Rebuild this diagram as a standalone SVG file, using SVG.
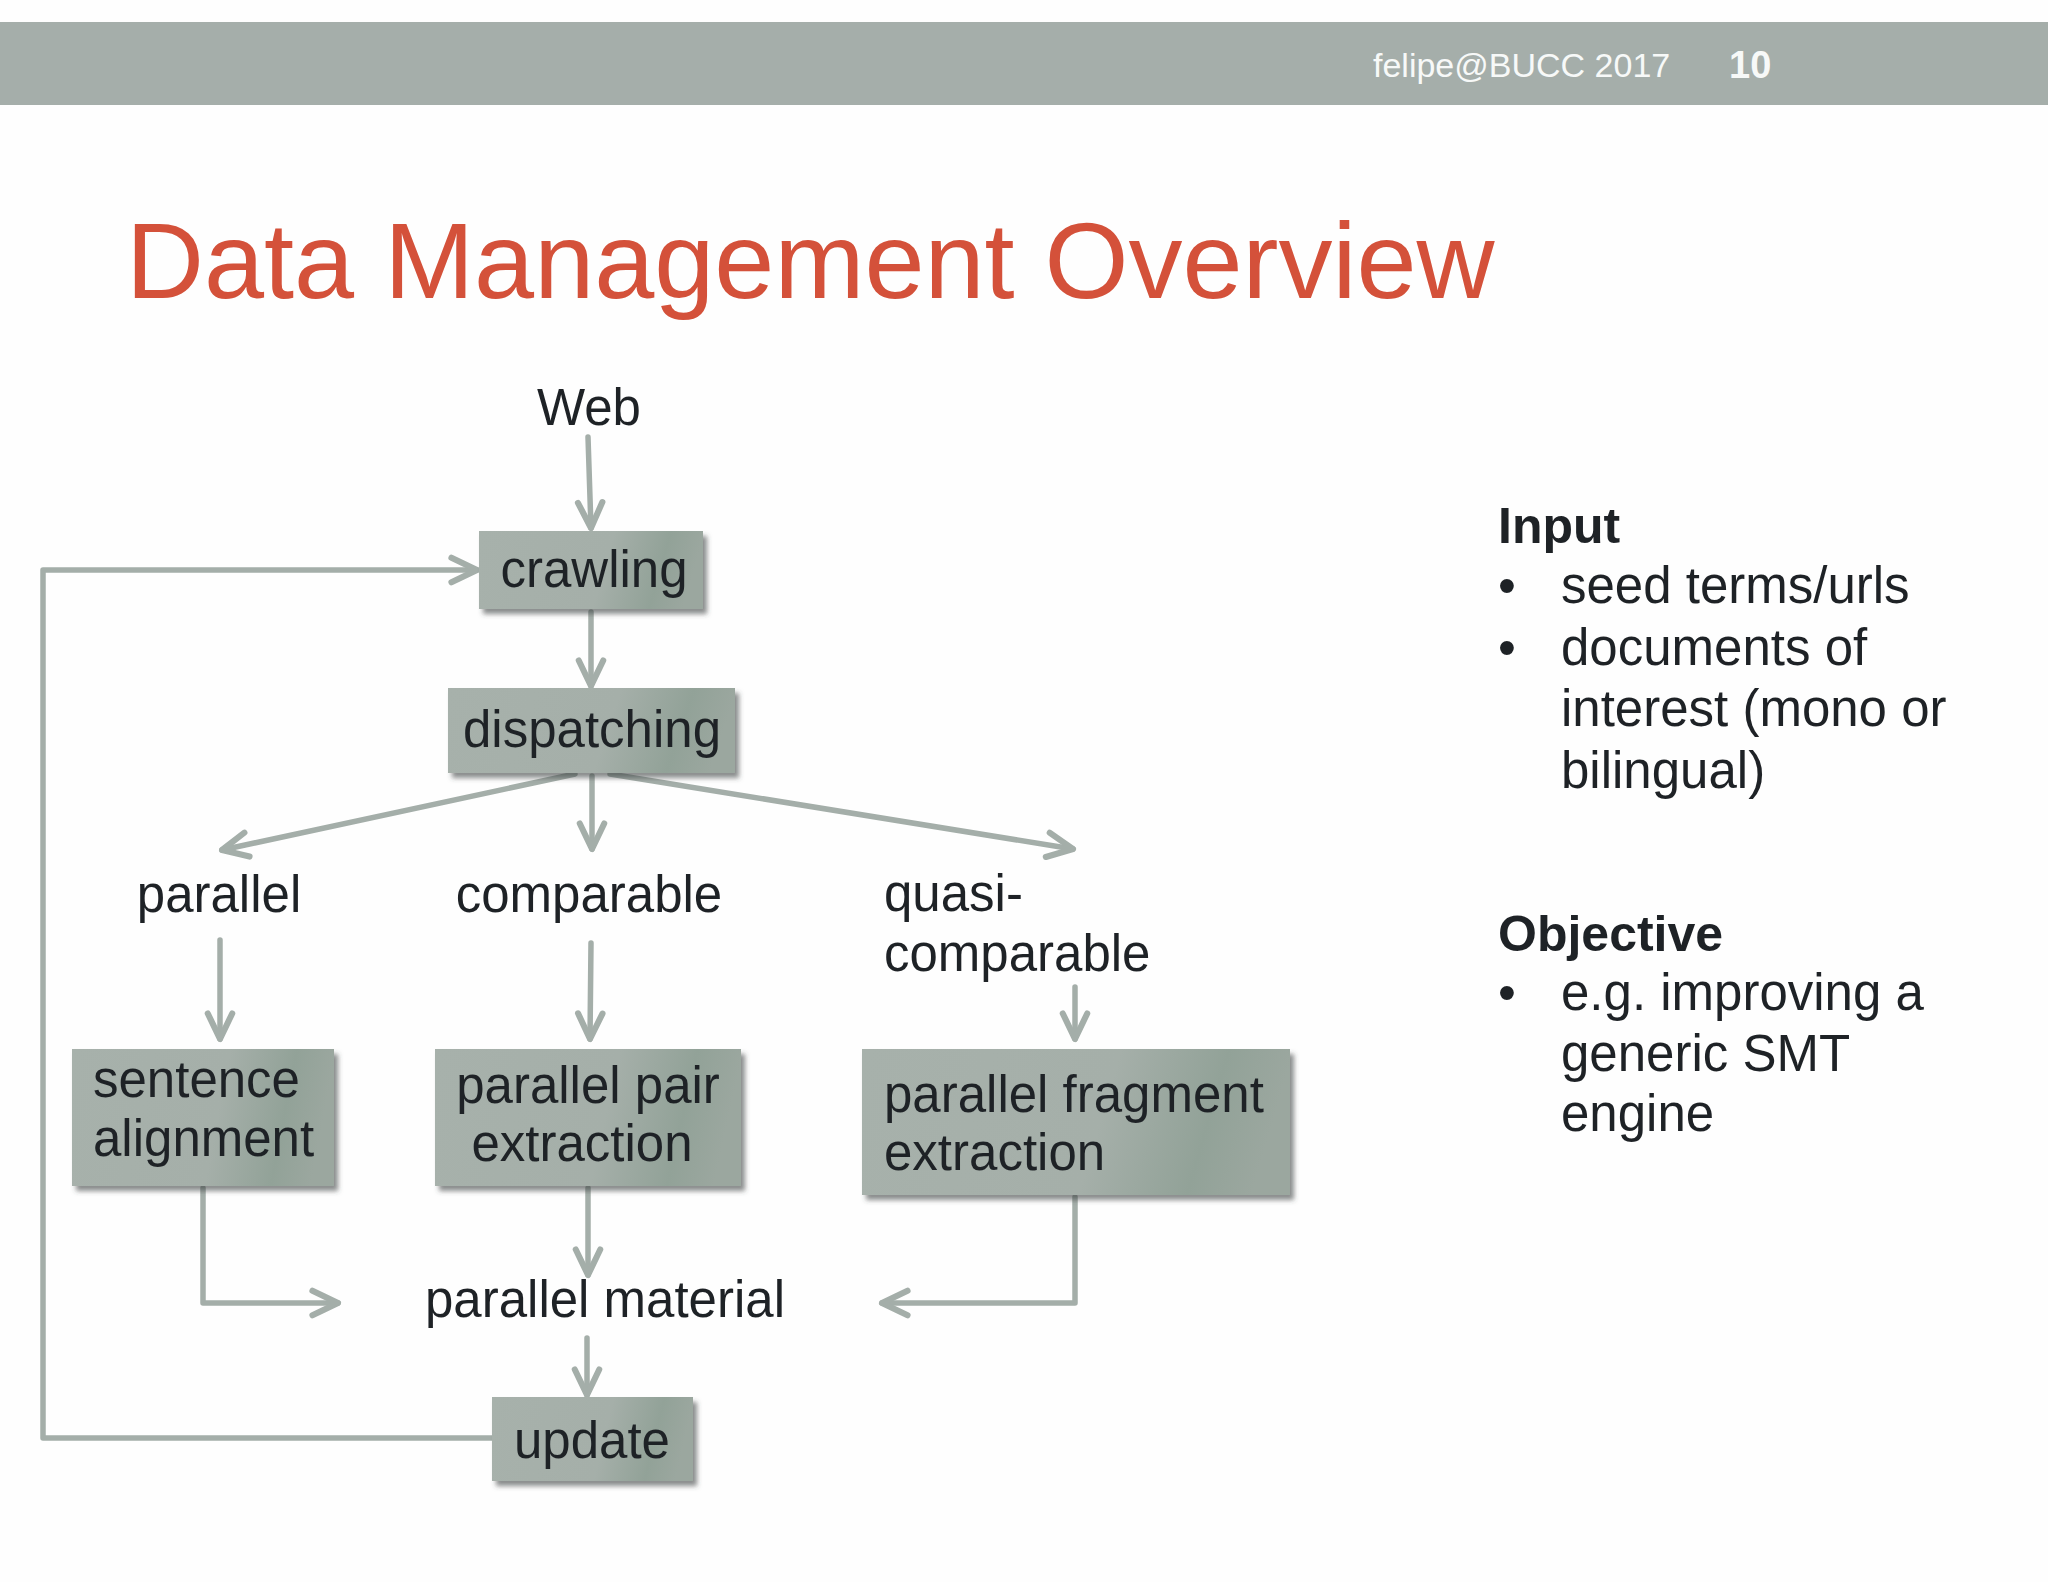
<svg xmlns="http://www.w3.org/2000/svg" width="2048" height="1582" viewBox="0 0 2048 1582">
  <defs>
    <style>
      .lbl { font-family: "Liberation Sans", Arial, sans-serif; font-size: 51px; fill: #1e2226; }
      .mid { text-anchor: middle; }
      .box { fill: url(#boxGrad); filter: url(#shadow); }
      .conn { fill: none; stroke: #a4aea9; stroke-width: 5.5; stroke-linecap: round; stroke-linejoin: round; marker-end: url(#arrow); }
      .side { font-family: "Liberation Sans", Arial, sans-serif; font-size: 51px; fill: #1e2226; }
      .sideb { font-family: "Liberation Sans", Arial, sans-serif; font-size: 50px; font-weight: bold; fill: #1e2226; }
    </style>
    <linearGradient id="boxGrad" x1="0" y1="0" x2="1" y2="0.1">
      <stop offset="0" stop-color="#a7b1ab"/>
      <stop offset="0.6" stop-color="#a5afa9"/>
      <stop offset="0.85" stop-color="#92a298"/>
      <stop offset="1" stop-color="#9ba79f"/>
    </linearGradient>
    <filter id="shadow" x="-10%" y="-10%" width="125%" height="130%">
      <feDropShadow dx="4" dy="5" stdDeviation="2.5" flood-color="#3d423f" flood-opacity="0.6"/>
    </filter>
    <marker id="arrow" markerUnits="userSpaceOnUse" markerWidth="40" markerHeight="40" viewBox="-30 -15 36 30" refX="0" refY="0" orient="auto">
      <path d="M-23,-11 L0,0 L-23,11" fill="none" stroke="#a4aea9" stroke-width="5.5" stroke-linecap="round" stroke-linejoin="round"/>
    </marker>
  </defs>

  <rect x="0" y="0" width="2048" height="1582" fill="#fefefe"/>

  <g id="header">
    <rect x="0" y="22" width="2048" height="83" fill="#a5aeaa"/>
    <text x="1373" y="77" font-family="Liberation Sans, Arial, sans-serif" font-size="34" fill="#f7f9f8">felipe@BUCC 2017</text>
    <text x="1729" y="78" font-family="Liberation Sans, Arial, sans-serif" font-size="38" font-weight="bold" fill="#f7f9f8">10</text>
  </g>

  <g id="title">
    <text x="126" y="298" font-family="Liberation Sans, Arial, sans-serif" font-size="108" fill="#d4513a">Data Management Overview</text>
  </g>

  <g id="connectors">
    <path class="conn" d="M588,437 L591,528"/>
    <path class="conn" d="M591,612 L591,686"/>
    <path class="conn" d="M575,774 L222,850"/>
    <path class="conn" d="M592,776 L592,849"/>
    <path class="conn" d="M610,774 L1073,849"/>
    <path class="conn" d="M220,940 L220,1039"/>
    <path class="conn" d="M591,943 L590,1039"/>
    <path class="conn" d="M1075,987 L1075,1039"/>
    <path class="conn" d="M203,1188 V1303 H338"/>
    <path class="conn" d="M588,1188 L588,1275"/>
    <path class="conn" d="M1075,1197 V1303 H882"/>
    <path class="conn" d="M587,1338 L587,1395"/>
    <path class="conn" d="M492,1438 H43 V570 H477"/>
  </g>

  <g id="node-web">
    <text class="lbl mid" x="589" y="425">Web</text>
  </g>

  <g id="node-crawling">
    <rect class="box" x="479" y="531" width="224" height="78"/>
    <text class="lbl mid" x="594" y="587">crawling</text>
  </g>

  <g id="node-dispatching">
    <rect class="box" x="448" y="688" width="287" height="85"/>
    <text class="lbl mid" x="592" y="747">dispatching</text>
  </g>

  <g id="node-parallel">
    <text class="lbl mid" x="219" y="912">parallel</text>
  </g>

  <g id="node-comparable">
    <text class="lbl mid" x="589" y="912">comparable</text>
  </g>

  <g id="node-quasi">
    <text class="lbl" x="884" y="911">quasi-</text>
    <text class="lbl" x="884" y="971">comparable</text>
  </g>

  <g id="node-sentence-alignment">
    <rect class="box" x="72" y="1049" width="262" height="137"/>
    <text class="lbl" x="93" y="1097">sentence</text>
    <text class="lbl" x="93" y="1156">alignment</text>
  </g>

  <g id="node-parallel-pair">
    <rect class="box" x="435" y="1049" width="306" height="137"/>
    <text class="lbl mid" x="588" y="1103">parallel pair</text>
    <text class="lbl mid" x="582" y="1161">extraction</text>
  </g>

  <g id="node-parallel-fragment">
    <rect class="box" x="862" y="1049" width="428" height="146"/>
    <text class="lbl" x="884" y="1112">parallel fragment</text>
    <text class="lbl" x="884" y="1170">extraction</text>
  </g>

  <g id="node-parallel-material">
    <text class="lbl mid" x="605" y="1317">parallel material</text>
  </g>

  <g id="node-update">
    <rect class="box" x="492" y="1397" width="201" height="84"/>
    <text class="lbl mid" x="592" y="1458">update</text>
  </g>

  <g id="side-notes">
    <text class="sideb" x="1498" y="543">Input</text>
    <text class="side" x="1498" y="603">•</text>
    <text class="side" x="1561" y="603">seed terms/urls</text>
    <text class="side" x="1498" y="665">•</text>
    <text class="side" x="1561" y="665">documents of</text>
    <text class="side" x="1561" y="726">interest (mono or</text>
    <text class="side" x="1561" y="788">bilingual)</text>
    <text class="sideb" x="1498" y="951">Objective</text>
    <text class="side" x="1498" y="1010">•</text>
    <text class="side" x="1561" y="1010">e.g. improving a</text>
    <text class="side" x="1561" y="1071">generic SMT</text>
    <text class="side" x="1561" y="1131">engine</text>
  </g>
</svg>
